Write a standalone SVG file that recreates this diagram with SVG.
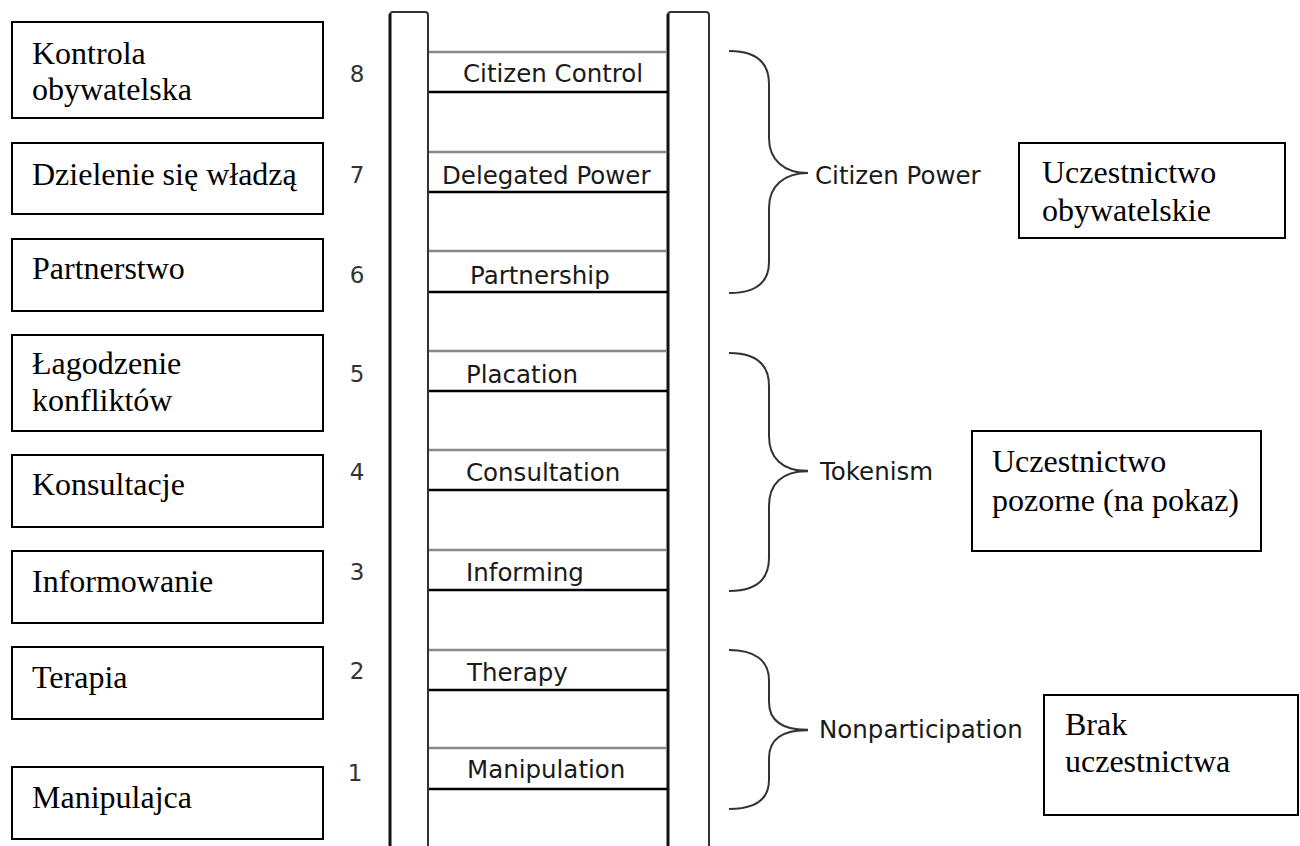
<svg xmlns="http://www.w3.org/2000/svg" width="1300" height="846" viewBox="0 0 1300 846">
<style>
.box{fill:#fff;stroke:#000;stroke-width:2}
.pl{font-family:"Liberation Serif","Times New Roman",serif;font-size:32px;fill:#000}
.num{font-family:"DejaVu Sans",sans-serif;font-size:23px;fill:#333;text-anchor:middle}
.lad{font-family:"DejaVu Sans",sans-serif;font-size:24.5px;fill:#1a1a1a}
.grp{font-family:"DejaVu Sans",sans-serif;font-size:24.5px;fill:#1a1a1a}
.rail{fill:none;stroke:#333;stroke-width:2}
.top{stroke:#888;stroke-width:2.5}
.bot{stroke:#000;stroke-width:2.5}
.brace{fill:none;stroke:#333;stroke-width:2}
</style>
<rect width="1300" height="846" fill="#fff"/>
<g id="ladder">
<path class="rail" d="M390,846 V15 Q390,12 393,12 H425 Q428,12 428,15 V846"/>
<line x1="390" y1="14" x2="390" y2="846" stroke="#111" stroke-width="3"/>
<path class="rail" d="M668,846 V15 Q668,12 671,12 H706 Q709,12 709,15 V846" stroke="#555"/>
<line x1="668" y1="14" x2="668" y2="846" stroke="#111" stroke-width="3"/>
<g id="rungs">
<line class="top" x1="429" y1="52" x2="667" y2="52"/><line class="bot" x1="429" y1="92" x2="667" y2="92"/>
<line class="top" x1="429" y1="152" x2="667" y2="152"/><line class="bot" x1="429" y1="192" x2="667" y2="192"/>
<line class="top" x1="429" y1="251" x2="667" y2="251"/><line class="bot" x1="429" y1="292" x2="667" y2="292"/>
<line class="top" x1="429" y1="351" x2="667" y2="351"/><line class="bot" x1="429" y1="391" x2="667" y2="391"/>
<line class="top" x1="429" y1="450" x2="667" y2="450"/><line class="bot" x1="429" y1="490" x2="667" y2="490"/>
<line class="top" x1="429" y1="550" x2="667" y2="550"/><line class="bot" x1="429" y1="590" x2="667" y2="590"/>
<line class="top" x1="429" y1="650" x2="667" y2="650"/><line class="bot" x1="429" y1="690" x2="667" y2="690"/>
<line class="top" x1="429" y1="748" x2="667" y2="748"/><line class="bot" x1="429" y1="789" x2="667" y2="789"/>
</g>
<g id="rung-labels">
<text class="lad" x="463" y="82">Citizen Control</text>
<text class="lad" x="442" y="184">Delegated Power</text>
<text class="lad" x="470" y="284">Partnership</text>
<text class="lad" x="466" y="383">Placation</text>
<text class="lad" x="466" y="481">Consultation</text>
<text class="lad" x="466" y="581">Informing</text>
<text class="lad" x="467" y="681">Therapy</text>
<text class="lad" x="467" y="778">Manipulation</text>
</g>
<g id="numbers">
<text class="num" x="357" y="82">8</text>
<text class="num" x="357" y="183">7</text>
<text class="num" x="357" y="283">6</text>
<text class="num" x="357" y="382">5</text>
<text class="num" x="357" y="480">4</text>
<text class="num" x="357" y="580">3</text>
<text class="num" x="357" y="679">2</text>
<text class="num" x="355" y="781">1</text>
</g>
</g>
<g id="connectors">
<path class="brace" d="M729,51 C756,51 769,62 769,84 L769,138 C769,160 784,173 808,173 C784,173 769,186 769,208 L769,262 C769,282 756,293 729,293"/>
<path class="brace" d="M729,353 C756,353 769,364 769,386 L769,436 C769,458 782,471 808,471 C782,471 769,484 769,506 L769,558 C769,580 756,591 729,591"/>
<path class="brace" d="M729,650 C754,650 769,660 769,680 L769,702 C769,720 782,730 808,730 C782,730 769,740 769,758 L769,780 C769,800 754,809 729,809"/>
<line x1="796" y1="471" x2="808" y2="471" stroke="#333" stroke-width="2.5"/>
<line x1="796" y1="730" x2="808" y2="730" stroke="#333" stroke-width="2.5"/>
</g>
<g id="group-labels">
<text class="grp" x="815" y="184">Citizen Power</text>
<text class="grp" x="820" y="480">Tokenism</text>
<text class="grp" x="819" y="738">Nonparticipation</text>
</g>
<g id="pl-8"><rect class="box" x="12" y="22" width="311" height="96"/><text class="pl" x="32" y="64">Kontrola</text><text class="pl" x="32" y="100">obywatelska</text></g>
<g id="pl-7"><rect class="box" x="12" y="143" width="311" height="71"/><text class="pl" x="32" y="185">Dzielenie się władzą</text></g>
<g id="pl-6"><rect class="box" x="12" y="239" width="311" height="72"/><text class="pl" x="32" y="279">Partnerstwo</text></g>
<g id="pl-5"><rect class="box" x="12" y="335" width="311" height="96"/><text class="pl" x="32" y="374">Łagodzenie</text><text class="pl" x="32" y="411">konfliktów</text></g>
<g id="pl-4"><rect class="box" x="12" y="455" width="311" height="72"/><text class="pl" x="32" y="495">Konsultacje</text></g>
<g id="pl-3"><rect class="box" x="12" y="551" width="311" height="72"/><text class="pl" x="32" y="592">Informowanie</text></g>
<g id="pl-2"><rect class="box" x="12" y="647" width="311" height="72"/><text class="pl" x="32" y="688">Terapia</text></g>
<g id="pl-1"><rect class="box" x="12" y="767" width="311" height="72"/><text class="pl" x="32" y="808">Manipulajca</text></g>
<g id="pl-citizen"><rect class="box" x="1019" y="143" width="266" height="95"/><text class="pl" x="1042" y="183">Uczestnictwo</text><text class="pl" x="1042" y="221">obywatelskie</text></g>
<g id="pl-token"><rect class="box" x="972" y="431" width="289" height="120"/><text class="pl" x="992" y="472">Uczestnictwo</text><text class="pl" x="992" y="511">pozorne (na pokaz)</text></g>
<g id="pl-non"><rect class="box" x="1044" y="695" width="254" height="120"/><text class="pl" x="1065" y="735">Brak</text><text class="pl" x="1065" y="772">uczestnictwa</text></g>
</svg>
